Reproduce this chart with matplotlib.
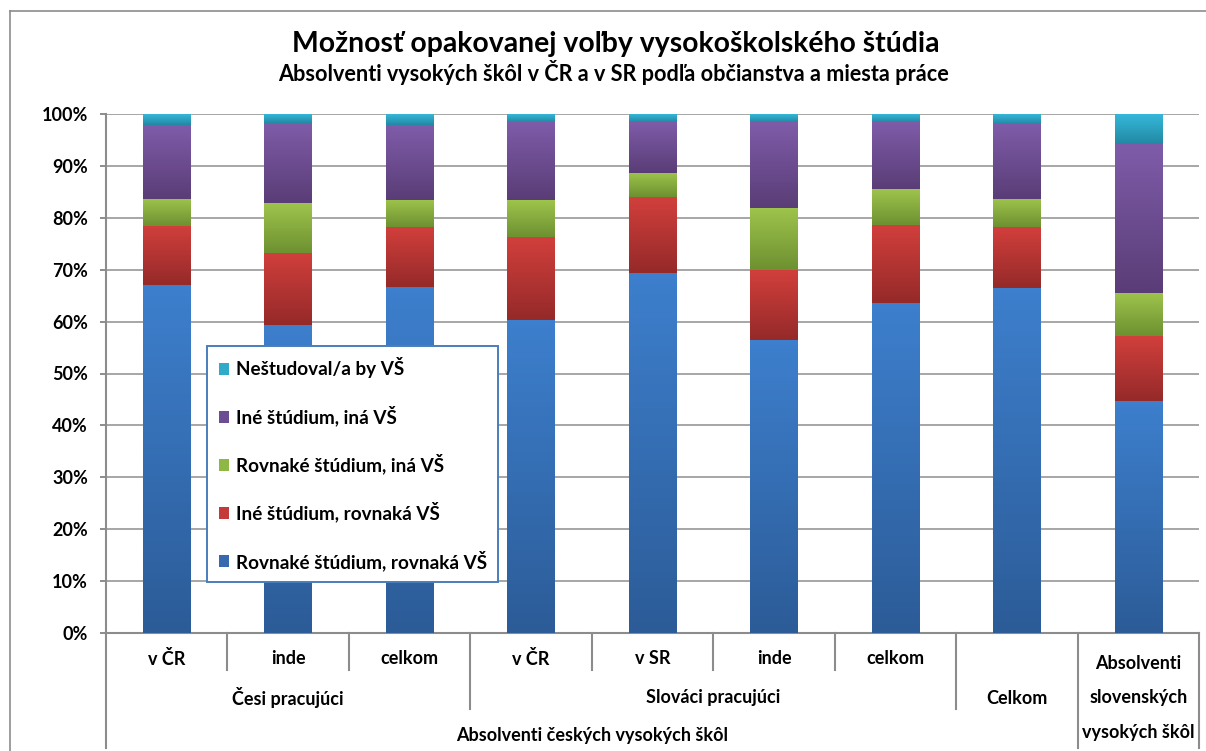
import numpy as np
import matplotlib
matplotlib.use('Agg')
import matplotlib.pyplot as plt
import matplotlib.transforms as mtransforms
from matplotlib.colors import LinearSegmentedColormap
from matplotlib.patches import Patch
from matplotlib.lines import Line2D

plt.rcParams['font.family'] = ['Lato', 'DejaVu Sans']
plt.rcParams['font.weight'] = 'bold'

# kategórie (úroveň 1) a skupiny
categories = ['v ČR', 'inde', 'celkom', 'v ČR', 'v SR', 'inde', 'celkom', '',
              'Absolventi\nslovenských\nvysokých škôl']
groups = [('Česi pracujúci', 0, 3), ('Slováci pracujúci', 3, 7), ('Celkom', 7, 8)]
top_groups = [('Absolventi českých vysokých škôl', 0, 8)]

# hodnoty v % (zdola nahor)
rovnake_rovnaka = [67.0, 59.4, 66.7, 60.4, 69.4, 56.5, 63.6, 66.5, 44.7]
ine_rovnaka = [11.4, 13.9, 11.5, 16.0, 14.6, 13.4, 15.0, 11.7, 12.5]
rovnake_ina = [5.3, 9.5, 5.3, 7.1, 4.7, 12.1, 6.9, 5.5, 8.3]
ine_ina = [14.2, 15.6, 14.4, 15.1, 9.9, 16.6, 13.1, 14.5, 28.8]
nestudoval = [2.1, 1.6, 2.1, 1.4, 1.4, 1.4, 1.4, 1.8, 5.7]

series = [
    ('Rovnaké štúdium, rovnaká VŠ', rovnake_rovnaka, '#3d7fcd', '#2c5c98', '#3868ae'),
    ('Iné štúdium, rovnaká VŠ', ine_rovnaka, '#d13f3c', '#952a29', '#c43a39'),
    ('Rovnaké štúdium, iná VŠ', rovnake_ina, '#9ec44c', '#6e9131', '#8eb845'),
    ('Iné štúdium, iná VŠ', ine_ina, '#7f5ca9', '#5a3d77', '#6c4d94'),
    ('Neštudoval/a by VŠ', nestudoval, '#36b7d9', '#2289a4', '#31a9c8'),
]

W, H = 1206, 751
fig = plt.figure(figsize=(W / 100, H / 100), dpi=100)
ax = fig.add_axes([106 / W, 1 - 632.7 / H, (1199.3 - 106) / W, (632.7 - 114.3) / H])

x = np.arange(len(categories))
bottom = np.zeros(len(categories))
grad = np.linspace(0, 1, 64)[:, None]
for name, vals, c_top, c_bot, c_leg in series:
    vals = np.array(vals)
    bars = ax.bar(x, vals, width=0.395, bottom=bottom, color=c_bot, linewidth=0, zorder=3)
    cmap = LinearSegmentedColormap.from_list(name, [c_top, c_bot])
    for p in bars:
        x0, y0 = p.get_x(), p.get_y()
        im = ax.imshow(grad, cmap=cmap, origin='upper', aspect='auto', zorder=3.5,
                       extent=(x0, x0 + p.get_width(), y0, y0 + p.get_height()))
        im.set_clip_path(p)
    bottom += vals

ax.set_xlim(-0.5, len(categories) - 0.5)
ax.set_ylim(0, 100)
ax.set_yticks(np.arange(0, 101, 10))
ax.set_yticklabels([f'{v}%' for v in range(0, 101, 10)])
ax.set_xticks([])
ax.yaxis.grid(True, color='#a6a6a6', linewidth=1.4, zorder=0)
ax.set_axisbelow(True)
ax.tick_params(axis='y', length=4.5, width=1.4, color='#8c8c8c', pad=8.4, labelsize=13)
for s in ['top', 'right']:
    ax.spines[s].set_visible(False)
for s in ['left', 'bottom']:
    ax.spines[s].set_color('#8c8c8c')
    ax.spines[s].set_linewidth(1.5)

# hierarchické popisky osi x
trans = mtransforms.blended_transform_factory(ax.transData, fig.transFigure)
fy = lambda py: 1 - py / H
row_y = [659, 698, 736]
for i, lab in enumerate(categories):
    if '\n' in lab:
        ax.text(i, fy(row_y[1]), lab, transform=trans, ha='center', va='center',
                fontsize=13, linespacing=2.25)
    else:
        ax.text(i, fy(row_y[0]), lab, transform=trans, ha='center', va='center', fontsize=13)
for lab, a, b in groups:
    ax.text((a + b - 1) / 2, fy(row_y[1]), lab, transform=trans, ha='center', va='center', fontsize=13)
for lab, a, b in top_groups:
    ax.text((a + b - 1) / 2, fy(row_y[2]), lab, transform=trans, ha='center', va='center', fontsize=13)

sep_end = {0: 748, 3: 709, 7: 709, 8: 748, 9: 748}
for k in range(len(categories) + 1):
    end = sep_end.get(k, 670)
    ax.add_line(Line2D([k - 0.5, k - 0.5], [fy(632.7), fy(end)], transform=trans,
                       color='#8c8c8c', linewidth=1.5, clip_on=False))

# legenda
handles = [Patch(facecolor=c_leg, edgecolor='none', label=name)
           for name, _, _, _, c_leg in reversed(series)]
leg = ax.legend(handles=handles, loc='upper left', bbox_to_anchor=(207.3 / W, fy(346)),
                bbox_transform=fig.transFigure, borderaxespad=0, fontsize=13.6,
                labelspacing=1.45, handlelength=0.55, handleheight=0.6,
                handletextpad=0.35, borderpad=0.6, fancybox=False, framealpha=1)
leg.get_frame().set_edgecolor('#4a7ebb')
leg.get_frame().set_linewidth(1.4)
leg.set_zorder(10)

# nadpisy
fig.text(616 / W, fy(52), 'Možnosť opakovanej voľby vysokoškolského štúdia',
         ha='center', va='baseline', fontsize=20.4)
fig.text(614 / W, fy(81), 'Absolventi vysokých škôl v ČR a v SR podľa občianstva a miesta práce',
         ha='center', va='baseline', fontsize=15.6)

# rámik grafu
fig.add_artist(Line2D([10 / W, 10 / W], [0, fy(10.5)], transform=fig.transFigure,
                      color='#8c8c8c', linewidth=1.2))
fig.add_artist(Line2D([10 / W, 1], [fy(10.5), fy(10.5)], transform=fig.transFigure,
                      color='#8c8c8c', linewidth=1.2))

fig.savefig('out.png', dpi=100)
